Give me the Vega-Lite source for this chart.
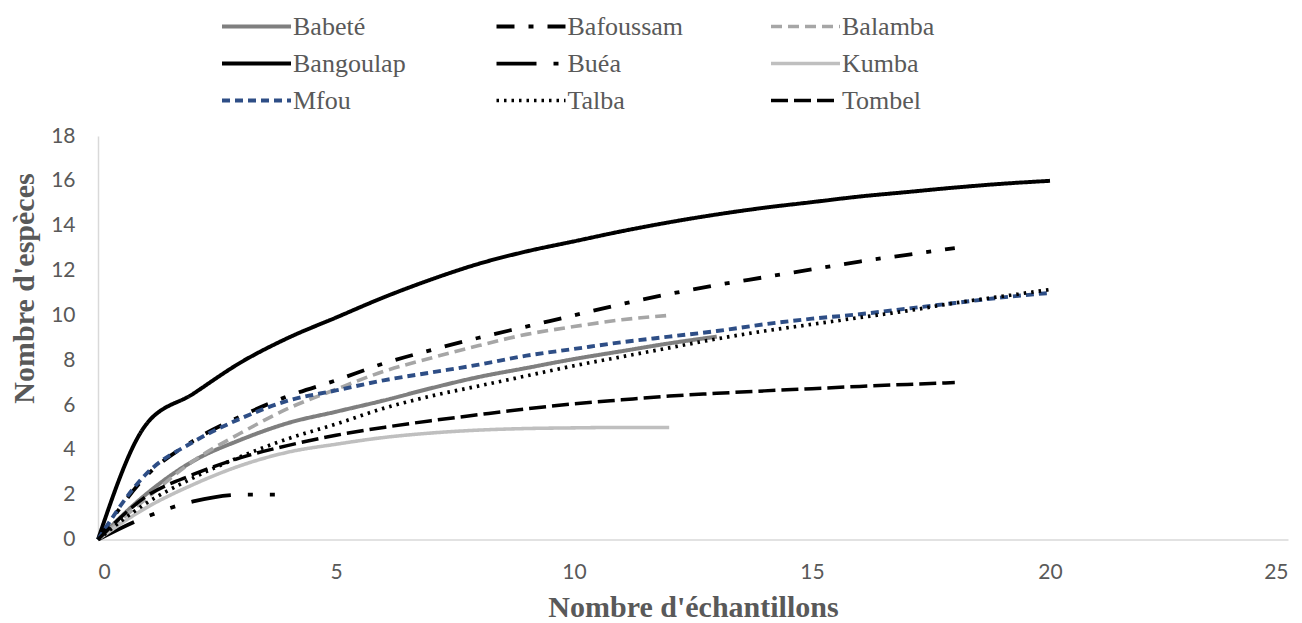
{
  "$schema": "https://vega.github.io/schema/vega-lite/v6.json",
  "width": 1190,
  "height": 403.5,
  "autosize": {"type": "none"},
  "padding": {"left": 98, "top": 136, "right": 14, "bottom": 83.5},
  "background": "white",
  "config": {
    "view": {"stroke": null},
    "axis": {
      "grid": false,
      "ticks": false,
      "tickSize": 0,
      "domainColor": "#d9d9d9",
      "domainWidth": 1.5,
      "labelFont": "Lato",
      "labelFontSize": 21,
      "labelColor": "#595959",
      "titleFont": "Liberation Serif",
      "titleFontSize": 30,
      "titleFontWeight": "bold",
      "titleColor": "#595959"
    },
    "legend": {
      "labelFont": "Liberation Serif",
      "labelFontSize": 26,
      "labelColor": "#595959"
    }
  },
  "data": {
    "values": [
      {"site": "Babeté", "x": 0, "y": 0}, {"site": "Babeté", "x": 1, "y": 2.0}, {"site": "Babeté", "x": 2, "y": 3.5}, {"site": "Babeté", "x": 3, "y": 4.45}, {"site": "Babeté", "x": 4, "y": 5.2}, {"site": "Babeté", "x": 5, "y": 5.7}, {"site": "Babeté", "x": 6, "y": 6.2}, {"site": "Babeté", "x": 7, "y": 6.75}, {"site": "Babeté", "x": 8, "y": 7.25}, {"site": "Babeté", "x": 9, "y": 7.65}, {"site": "Babeté", "x": 10, "y": 8.05}, {"site": "Babeté", "x": 11, "y": 8.4}, {"site": "Babeté", "x": 12, "y": 8.75}, {"site": "Babeté", "x": 13, "y": 9.05},
      {"site": "Bafoussam", "x": 0, "y": 0}, {"site": "Bafoussam", "x": 1, "y": 2.8}, {"site": "Bafoussam", "x": 2, "y": 4.4}, {"site": "Bafoussam", "x": 3, "y": 5.5}, {"site": "Bafoussam", "x": 4, "y": 6.4}, {"site": "Bafoussam", "x": 5, "y": 7.1}, {"site": "Bafoussam", "x": 6, "y": 7.85}, {"site": "Bafoussam", "x": 7, "y": 8.45}, {"site": "Bafoussam", "x": 8, "y": 9.0}, {"site": "Bafoussam", "x": 9, "y": 9.5}, {"site": "Bafoussam", "x": 10, "y": 10.0}, {"site": "Bafoussam", "x": 11, "y": 10.5}, {"site": "Bafoussam", "x": 12, "y": 10.95}, {"site": "Bafoussam", "x": 13, "y": 11.35}, {"site": "Bafoussam", "x": 14, "y": 11.7}, {"site": "Bafoussam", "x": 15, "y": 12.05}, {"site": "Bafoussam", "x": 16, "y": 12.4}, {"site": "Bafoussam", "x": 17, "y": 12.7}, {"site": "Bafoussam", "x": 18, "y": 13.0},
      {"site": "Balamba", "x": 0, "y": 0}, {"site": "Balamba", "x": 1, "y": 1.8}, {"site": "Balamba", "x": 2, "y": 3.5}, {"site": "Balamba", "x": 3, "y": 4.75}, {"site": "Balamba", "x": 4, "y": 5.85}, {"site": "Balamba", "x": 5, "y": 6.7}, {"site": "Balamba", "x": 6, "y": 7.5}, {"site": "Balamba", "x": 7, "y": 8.1}, {"site": "Balamba", "x": 8, "y": 8.65}, {"site": "Balamba", "x": 9, "y": 9.15}, {"site": "Balamba", "x": 10, "y": 9.5}, {"site": "Balamba", "x": 11, "y": 9.8}, {"site": "Balamba", "x": 12, "y": 10.0},
      {"site": "Bangoulap", "x": 0, "y": 0}, {"site": "Bangoulap", "x": 1, "y": 5.1}, {"site": "Bangoulap", "x": 2, "y": 6.5}, {"site": "Bangoulap", "x": 3, "y": 7.9}, {"site": "Bangoulap", "x": 4, "y": 9.0}, {"site": "Bangoulap", "x": 5, "y": 9.9}, {"site": "Bangoulap", "x": 6, "y": 10.8}, {"site": "Bangoulap", "x": 7, "y": 11.6}, {"site": "Bangoulap", "x": 8, "y": 12.3}, {"site": "Bangoulap", "x": 9, "y": 12.85}, {"site": "Bangoulap", "x": 10, "y": 13.3}, {"site": "Bangoulap", "x": 11, "y": 13.75}, {"site": "Bangoulap", "x": 12, "y": 14.15}, {"site": "Bangoulap", "x": 13, "y": 14.5}, {"site": "Bangoulap", "x": 14, "y": 14.8}, {"site": "Bangoulap", "x": 15, "y": 15.05}, {"site": "Bangoulap", "x": 16, "y": 15.3}, {"site": "Bangoulap", "x": 17, "y": 15.5}, {"site": "Bangoulap", "x": 18, "y": 15.7}, {"site": "Bangoulap", "x": 19, "y": 15.87}, {"site": "Bangoulap", "x": 20, "y": 16.0},
      {"site": "Buéa", "x": 0, "y": 0}, {"site": "Buéa", "x": 1, "y": 1.0}, {"site": "Buéa", "x": 2, "y": 1.7}, {"site": "Buéa", "x": 3, "y": 2.0}, {"site": "Buéa", "x": 4, "y": 2.0},
      {"site": "Kumba", "x": 0, "y": 0}, {"site": "Kumba", "x": 1, "y": 1.4}, {"site": "Kumba", "x": 2, "y": 2.45}, {"site": "Kumba", "x": 3, "y": 3.3}, {"site": "Kumba", "x": 4, "y": 3.9}, {"site": "Kumba", "x": 5, "y": 4.25}, {"site": "Kumba", "x": 6, "y": 4.55}, {"site": "Kumba", "x": 7, "y": 4.75}, {"site": "Kumba", "x": 8, "y": 4.88}, {"site": "Kumba", "x": 9, "y": 4.95}, {"site": "Kumba", "x": 10, "y": 4.98}, {"site": "Kumba", "x": 11, "y": 5.0}, {"site": "Kumba", "x": 12, "y": 5.0},
      {"site": "Mfou", "x": 0, "y": 0}, {"site": "Mfou", "x": 1, "y": 2.9}, {"site": "Mfou", "x": 2, "y": 4.35}, {"site": "Mfou", "x": 3, "y": 5.4}, {"site": "Mfou", "x": 4, "y": 6.2}, {"site": "Mfou", "x": 5, "y": 6.65}, {"site": "Mfou", "x": 6, "y": 7.1}, {"site": "Mfou", "x": 7, "y": 7.45}, {"site": "Mfou", "x": 8, "y": 7.8}, {"site": "Mfou", "x": 9, "y": 8.2}, {"site": "Mfou", "x": 10, "y": 8.5}, {"site": "Mfou", "x": 11, "y": 8.8}, {"site": "Mfou", "x": 12, "y": 9.05}, {"site": "Mfou", "x": 13, "y": 9.3}, {"site": "Mfou", "x": 14, "y": 9.6}, {"site": "Mfou", "x": 15, "y": 9.85}, {"site": "Mfou", "x": 16, "y": 10.05}, {"site": "Mfou", "x": 17, "y": 10.3}, {"site": "Mfou", "x": 18, "y": 10.55}, {"site": "Mfou", "x": 19, "y": 10.8}, {"site": "Mfou", "x": 20, "y": 11.0},
      {"site": "Talba", "x": 0, "y": 0}, {"site": "Talba", "x": 1, "y": 1.6}, {"site": "Talba", "x": 2, "y": 2.75}, {"site": "Talba", "x": 3, "y": 3.7}, {"site": "Talba", "x": 4, "y": 4.5}, {"site": "Talba", "x": 5, "y": 5.15}, {"site": "Talba", "x": 6, "y": 5.85}, {"site": "Talba", "x": 7, "y": 6.4}, {"site": "Talba", "x": 8, "y": 6.85}, {"site": "Talba", "x": 9, "y": 7.3}, {"site": "Talba", "x": 10, "y": 7.75}, {"site": "Talba", "x": 11, "y": 8.15}, {"site": "Talba", "x": 12, "y": 8.55}, {"site": "Talba", "x": 13, "y": 8.95}, {"site": "Talba", "x": 14, "y": 9.3}, {"site": "Talba", "x": 15, "y": 9.6}, {"site": "Talba", "x": 16, "y": 9.9}, {"site": "Talba", "x": 17, "y": 10.2}, {"site": "Talba", "x": 18, "y": 10.55}, {"site": "Talba", "x": 19, "y": 10.85}, {"site": "Talba", "x": 20, "y": 11.15},
      {"site": "Tombel", "x": 0, "y": 0}, {"site": "Tombel", "x": 1, "y": 1.9}, {"site": "Tombel", "x": 2, "y": 2.9}, {"site": "Tombel", "x": 3, "y": 3.65}, {"site": "Tombel", "x": 4, "y": 4.2}, {"site": "Tombel", "x": 5, "y": 4.65}, {"site": "Tombel", "x": 6, "y": 5.0}, {"site": "Tombel", "x": 7, "y": 5.3}, {"site": "Tombel", "x": 8, "y": 5.57}, {"site": "Tombel", "x": 9, "y": 5.83}, {"site": "Tombel", "x": 10, "y": 6.05}, {"site": "Tombel", "x": 11, "y": 6.23}, {"site": "Tombel", "x": 12, "y": 6.4}, {"site": "Tombel", "x": 13, "y": 6.52}, {"site": "Tombel", "x": 14, "y": 6.63}, {"site": "Tombel", "x": 15, "y": 6.73}, {"site": "Tombel", "x": 16, "y": 6.83}, {"site": "Tombel", "x": 17, "y": 6.92}, {"site": "Tombel", "x": 18, "y": 7.0}
    ]
  },
  "mark": {"type": "line", "interpolate": "monotone", "strokeCap": "butt", "strokeJoin": "round"},
  "encoding": {
    "x": {
      "field": "x",
      "type": "quantitative",
      "scale": {"domain": [0, 25], "nice": false},
      "axis": {
        "values": [0, 5, 10, 15, 20, 25],
        "title": "Nombre d'échantillons",
        "labelPadding": 22,
        "titleX": 595,
        "titleY": 77,
        "titleBaseline": "alphabetic",
        "titleAlign": "center",
        "titleAnchor": null
      }
    },
    "y": {
      "field": "y",
      "type": "quantitative",
      "scale": {"domain": [0, 18], "nice": false},
      "axis": {
        "values": [0, 2, 4, 6, 8, 10, 12, 14, 16, 18],
        "title": "Nombre d'espèces",
        "labelPadding": 23,
        "titleAngle": -90,
        "titleX": -65,
        "titleY": 152,
        "titleBaseline": "alphabetic",
        "titleAlign": "center"
      }
    },
    "color": {
      "field": "site",
      "type": "nominal",
      "scale": {
        "domain": ["Babeté", "Bangoulap", "Mfou", "Bafoussam", "Buéa", "Talba", "Balamba", "Kumba", "Tombel"],
        "range": ["#7f7f7f", "#000000", "#2e4e86", "#000000", "#000000", "#000000", "#a6a6a6", "#bfbfbf", "#000000"]
      },
      "legend": {
        "title": null,
        "orient": "none",
        "legendX": 122,
        "legendY": -123,
        "columns": 3,
        "columnPadding": 85.5,
        "gridAlign": "all",
        "rowPadding": 10,
        "clipHeight": 27,
        "padding": 0,
        "symbolSize": 4761,
        "labelOffset": 0
      }
    },
    "strokeDash": {
      "field": "site",
      "type": "nominal",
      "scale": {
        "domain": ["Babeté", "Bangoulap", "Mfou", "Bafoussam", "Buéa", "Talba", "Balamba", "Kumba", "Tombel"],
        "range": [[1, 0], [1, 0], [8, 5], [18, 14, 5, 14], [40, 17, 5, 17, 5, 17], [2.5, 5], [11, 6], [1, 0], [17, 6]]
      }
    },
    "strokeWidth": {
      "field": "site",
      "type": "nominal",
      "scale": {
        "domain": ["Babeté", "Bangoulap", "Mfou", "Bafoussam", "Buéa", "Talba", "Balamba", "Kumba", "Tombel"],
        "range": [4, 3.5, 2.2, 5, 5.5, 2.5, 4, 4.5, 5.5]
      }
    }
  }
}
